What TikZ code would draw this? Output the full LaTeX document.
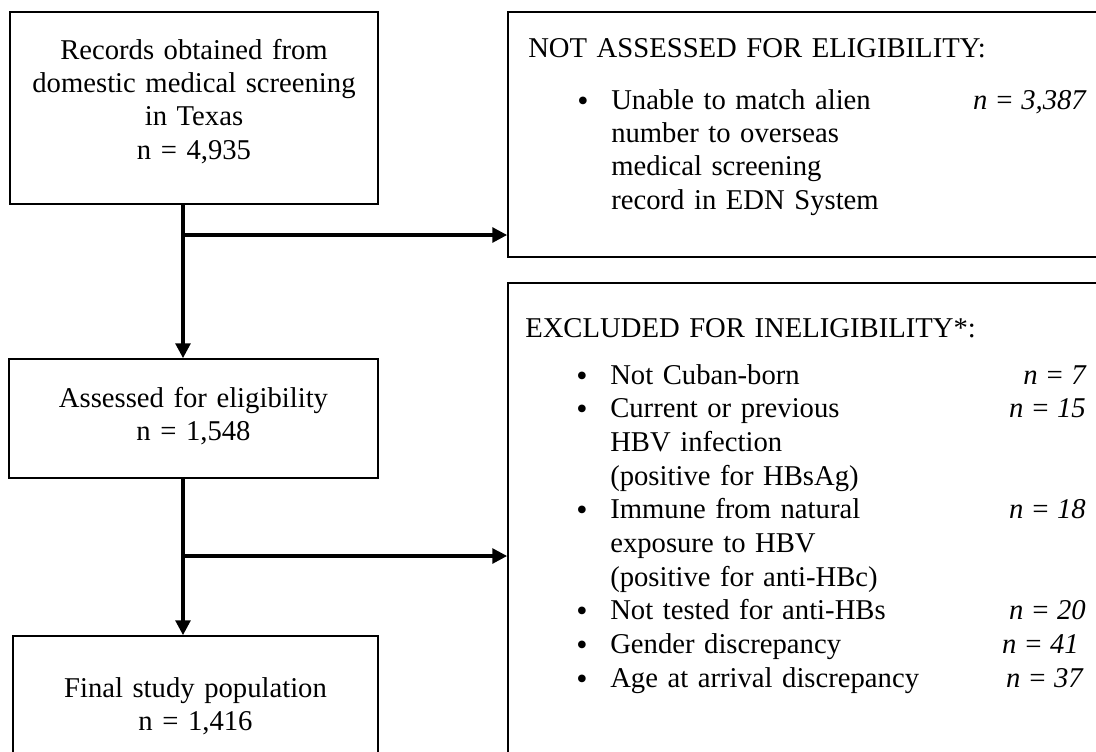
\documentclass[tikz,border=0pt]{standalone}
\usepackage{fontspec}
\setmainfont{Liberation Serif}
\usetikzlibrary{arrows.meta}

\newcommand\flowfont{\fontsize{21.5}{25}\selectfont}
\newcommand\listfont{\fontsize{21.5}{25.3}\selectfont}

\begin{document}
\begin{tikzpicture}[x=0.75pt,y=-0.75pt,
    box/.style 2 args={draw, line width=1.3pt, minimum width=#1, minimum height=#2, inner sep=0pt},
    ctxt/.style={inner sep=0pt, anchor=base, text width=260pt, align=center, font=\flowfont},
    ltxt/.style={inner sep=0pt, anchor=base west, text width=380pt, align=left, font=\flowfont},
    bul/.style={inner sep=0pt, anchor=base, yshift=-1.5pt, font=\fontsize{24}{24}\selectfont},
    num/.style={inner sep=0pt, anchor=base east, font=\flowfont\itshape},
    conn/.style={line width=2.4pt, -{Triangle[length=11pt,width=11pt]}}]

  % Fix the page and cut off what runs past it
  \useasboundingbox (0,0) rectangle (1096,751);
  \fill[white] (0,0) rectangle (1096,751);
  \clip (0,0) rectangle (1096,751);

  % Boxes of the main column
  \node[box={276pt}{144pt}] (rec) at (194,108) {};
  \node[box={276.75pt}{89.25pt}] (assess) at (193.5,418.5) {};
  \node[box={273.75pt}{115.5pt}] (final) at (195.5,713) {};

  % Boxes on the right, running off the page
  \node[box={459pt}{183.75pt}] (skip) at (814,134.5) {};
  \node[box={459pt}{387.75pt}] (excl) at (814,541.5) {};

  % Texts of the main column
  \node[ctxt] (rectxt) at (194,59) {Records obtained from\\domestic medical screening\\in Texas\\n = 4,935};
  \node[ctxt] (assesstxt) at (193.5,407) {Assessed for eligibility\\n = 1,548};
  \node[ctxt] (finaltxt) at (195.5,697) {Final study population\\n = 1,416};

  % Not assessed
  \node[ltxt] (skiphead) at (528,57) {NOT ASSESSED FOR ELIGIBILITY:};
  \node[bul] (skipbul) at (583,109) {•};
  \node[ltxt] (skipitem) at (611,109) {Unable to match alien\\number to overseas\\medical screening\\record in EDN System};
  \node[num] (skipnum) at (1086,109) {n = 3,387};

  % Excluded
  \node[ltxt] (exclhead) at (525,337) {EXCLUDED FOR INELIGIBILITY*:};
  \foreach \k/\y/\txt/\n/\r in {1/384/{Not Cuban-born}/7/1086,
      2/417.7/{Current or previous\\HBV infection\\(positive for HBsAg)}/15/1086,
      3/518.8/{Immune from natural\\exposure to HBV\\(positive for anti-HBc)}/18/1086,
      4/619.9/{Not tested for anti-HBs}/20/1086,
      5/653.6/{Gender discrepancy}/41/1079,
      6/687.3/{Age at arrival discrepancy}/37/1083}
  {
    \node[bul] (exclbul\k) at (582,\y) {•};
    \node[ltxt, font=\listfont] (exclitem\k) at (610,\y) {\txt};
    \node[num] (exclnum\k) at (\r,\y) {n = \n};
  }

  % Connectors
  \coordinate (trunk) at (183,0);
  \coordinate (fork1) at (183,235);
  \coordinate (fork2) at (183,556);
  \draw[conn] (trunk |- rec.south) -- (trunk |- assess.north);
  \draw[conn] (fork1) -- (fork1 -| skip.west);
  \draw[conn] (trunk |- assess.south) -- (trunk |- final.north);
  \draw[conn] (fork2) -- (fork2 -| excl.west);
\end{tikzpicture}
\end{document}
